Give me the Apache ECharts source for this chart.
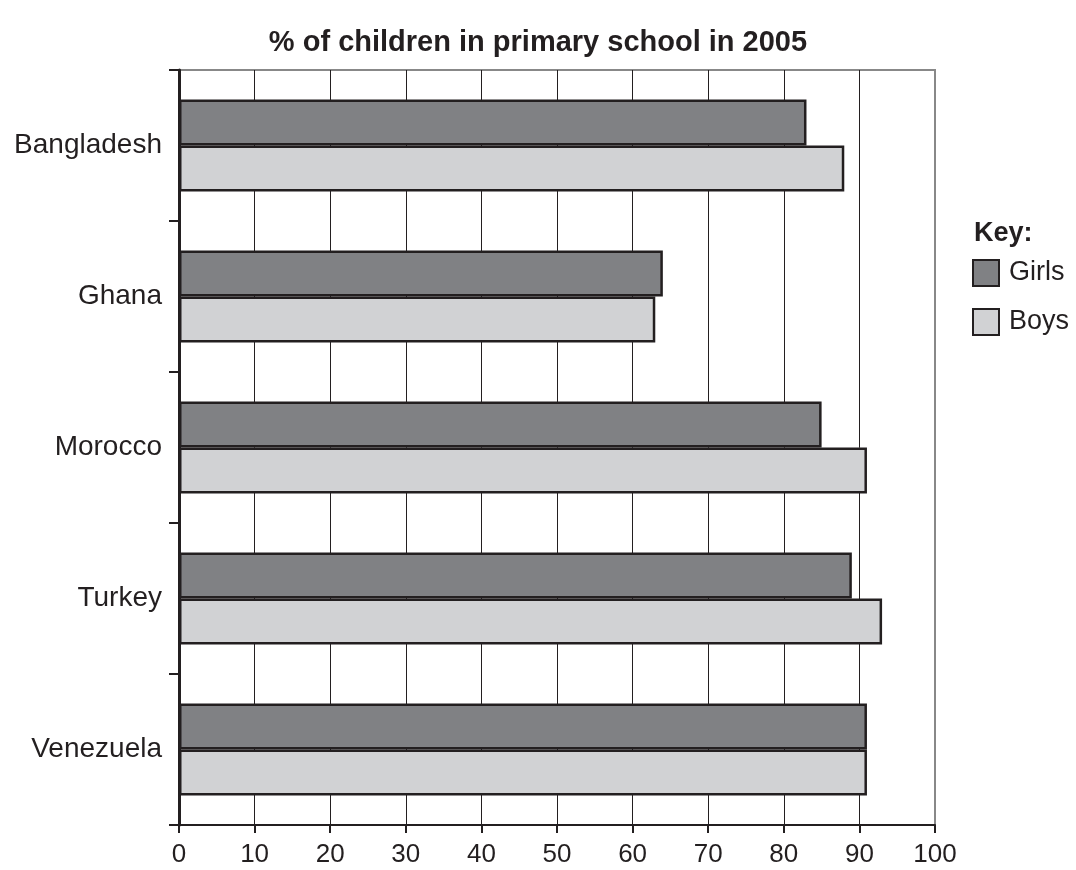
<!DOCTYPE html>
<html>
<head>
<meta charset="utf-8">
<script src="https://cdn.jsdelivr.net/npm/echarts@6/dist/echarts.min.js"></script>
<style>html,body{margin:0;padding:0;background:#fff}#c{width:1076px;height:870px}</style>
</head>
<body>
<div id="c"></div>
<script>
const categories = ['Bangladesh', 'Ghana', 'Morocco', 'Turkey', 'Venezuela'];
const girls = [83, 64, 85, 89, 91];
const boys = [88, 63, 91, 93, 91];
const xTicks = [0, 10, 20, 30, 40, 50, 60, 70, 80, 90, 100];

const chart = echarts.init(document.getElementById('c'));
const ink = '#231f20';
const font = 'Liberation Sans, Arial, sans-serif';
chart.setOption({
  animation: false,
  backgroundColor: '#fff',
  title: [{
    text: '% of children in primary school in 2005',
    left: 'center', top: 23,
    textStyle: { fontFamily: font, fontSize: 29, fontWeight: 'bold', color: ink }
  }, {
    text: 'Key:',
    left: 969, top: 215,
    textStyle: { fontFamily: font, fontSize: 27, fontWeight: 'bold', color: ink }
  }],
  legend: {
    orient: 'vertical', left: 967, top: 254,
    itemWidth: 26, itemHeight: 26, itemGap: 21,
    icon: 'rect',
    data: ['Girls', 'Boys'],
    textStyle: { fontFamily: font, fontSize: 27, color: ink, padding: [0, 0, 0, 5] }
  },
  grid: {
    left: 179, right: 141, top: 70, bottom: 45,
    show: true, borderColor: '#888', borderWidth: 2, backgroundColor: 'transparent'
  },
  xAxis: {
    type: 'value', min: 0, max: 100, interval: 10,
    axisLine: { show: true, lineStyle: { color: ink, width: 2 } },
    axisTick: { show: true, length: 8, lineStyle: { color: ink, width: 2 } },
    axisLabel: { fontFamily: font, fontSize: 26, color: ink, margin: 17,
      formatter: v => xTicks.includes(v) ? String(v) : '' },
    splitLine: { show: true, lineStyle: { color: [ink, ink, ink, ink, ink, ink, ink, ink, ink, ink, '#888'], width: 1 } }
  },
  yAxis: {
    type: 'category', inverse: true, data: categories,
    axisLine: { show: true, lineStyle: { color: ink, width: 3 } },
    axisTick: { show: true, length: 10, lineStyle: { color: ink, width: 2 } },
    axisLabel: { fontFamily: font, fontSize: 28, color: ink, margin: 17 },
    splitLine: { show: false }
  },
  series: [{
    name: 'Girls', type: 'bar', data: girls,
    barGap: '0%', barCategoryGap: '39%',
    itemStyle: { color: '#808184', borderColor: ink, borderWidth: 2.5 }
  }, {
    name: 'Boys', type: 'bar', data: boys,
    barGap: '0%', barCategoryGap: '39%',
    itemStyle: { color: '#d1d2d4', borderColor: ink, borderWidth: 2.5 }
  }]
});
</script>
</body>
</html>
